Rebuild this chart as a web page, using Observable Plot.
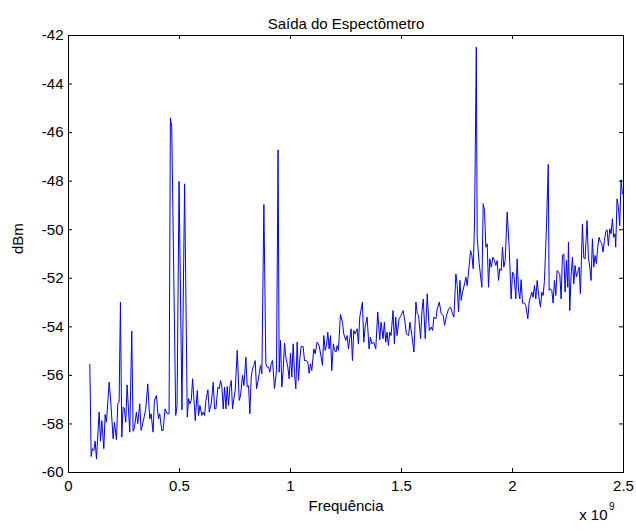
<!DOCTYPE html>
<html>
<head>
<meta charset="utf-8">
<script src="https://cdn.jsdelivr.net/npm/d3@7"></script>
<script src="https://cdn.jsdelivr.net/npm/@observablehq/plot@0.6"></script>
<style>
  html, body { margin: 0; padding: 0; background: #fff; }
  #chart svg { display: block; }
</style>
</head>
<body>
<div id="chart"></div>
<script>
// Frequency in units of 10^9 Hz
const freq = [
0.096,0.102,0.108,0.114,0.120,0.126,0.138,0.144,0.150,0.159,0.165,0.171,0.183,0.189,0.201,0.207,0.216,0.222,0.228,0.234,
0.240,0.246,0.252,0.258,0.264,0.276,0.285,0.291,0.297,0.306,0.312,0.321,0.327,0.339,0.348,0.357,0.366,0.372,0.381,0.387,
0.396,0.405,0.411,0.420,0.426,0.435,0.444,0.453,0.459,0.465,0.483,0.489,0.498,0.511,0.523,0.535,0.541,0.547,0.553,0.559,
0.565,0.571,0.580,0.586,0.592,0.601,0.607,0.613,0.619,0.628,0.634,0.643,0.652,0.658,0.664,0.673,0.679,0.685,
0.691,0.697,0.703,0.709,0.715,0.721,0.727,0.733,0.739,0.745,0.751,0.760,0.769,0.775,0.784,0.790,0.799,0.805,0.811,0.817,
0.823,0.829,0.835,0.841,0.847,0.853,0.859,0.865,0.871,0.880,0.889,0.895,0.901,0.907,0.913,0.919,0.928,0.937,0.944,0.949,
0.955,0.961,0.967,0.973,0.979,0.988,0.994,1.000,1.006,1.012,1.018,1.024,1.030,1.036,1.042,1.048,1.057,1.063,1.072,1.078,
1.084,1.090,1.096,1.105,1.111,1.120,1.129,1.138,1.144,1.150,1.156,1.162,1.168,1.174,1.180,1.186,1.193,1.199,1.205,1.210,
1.216,1.225,1.234,1.240,1.249,1.255,1.261,1.267,1.273,1.279,1.285,1.291,1.300,1.306,1.312,
1.324,1.330,1.336,1.345,1.354,1.360,1.366,1.375,1.384,1.393,1.402,1.408,1.417,1.423,1.429,1.435,1.441,1.447,1.453,1.462,
1.468,1.474,1.480,1.489,1.498,1.507,1.516,1.522,1.532,1.538,1.547,1.556,1.565,1.571,1.577,1.586,1.592,1.598,1.607,1.616,
1.625,1.634,1.640,1.646,1.655,1.661,1.670,1.679,1.688,1.694,1.703,1.712,1.721,1.730,1.736,1.745,1.751,1.757,1.763,1.769,
1.775,1.784,1.790,1.796,1.805,1.811,1.817,1.823,1.829,1.837,1.841,1.850,1.862,1.868,1.874,1.880,1.886,1.892,1.898,
1.904,1.912,1.919,1.925,1.931,1.937,1.943,1.949,1.955,1.961,1.967,1.976,1.985,1.994,2.000,2.006,2.015,2.021,2.027,2.033,
2.039,2.045,2.054,2.060,2.069,2.075,2.081,2.087,2.093,2.099,2.105,2.111,2.120,2.126,2.132,2.138,2.144,2.153,2.161,2.165,
2.171,2.177,2.183,2.189,2.195,2.201,2.207,2.213,2.219,2.225,2.231,2.237,2.243,2.249,2.252,2.258,2.264,2.270,2.276,2.282,
2.288,2.294,2.300,2.306,2.315,2.321,2.327,2.336,2.342,2.348,2.354,2.360,2.366,2.372,2.378,2.384,2.390,2.396,2.402,2.408,
2.414,2.420,2.426,2.432,2.438,2.444,2.450,2.456,2.462,2.465,2.471,2.477,2.483,2.489,2.495
];
// Power in dBm
const dbm = [
-55.55,-59.34,-59.02,-59.09,-58.71,-59.44,-57.51,-58.71,-57.86,-59.02,-57.61,-57.93,-56.28,-56.90,-58.61,-57.93,-58.65,-57.17,-57.10,-52.98,
-58.54,-57.31,-57.38,-57.93,-56.39,-58.34,-54.18,-58.30,-58.16,-57.51,-57.99,-57.17,-58.27,-57.79,-57.38,-56.35,-57.79,-57.58,-58.34,-57.03,
-56.83,-57.79,-57.58,-58.27,-58.27,-57.38,-57.58,-57.58,-45.39,-45.78,-57.65,-57.24,-48.01,-57.42,-48.11,-57.72,-56.96,-57.17,-57.03,-56.14,
-56.96,-57.86,-56.62,-57.65,-57.24,-57.65,-57.51,-57.65,-57.03,-56.59,-57.51,-57.17,-56.28,-57.38,-57.38,-56.49,-56.55,-56.21,
-56.48,-57.38,-56.48,-57.38,-56.46,-57.24,-56.48,-56.21,-57.38,-56.96,-56.62,-54.97,-57.03,-56.83,-56.00,-56.42,-55.25,-56.48,-56.42,-57.58,
-56.07,-55.73,-55.59,-55.39,-56.55,-56.28,-55.93,-55.59,-55.93,-48.96,-55.52,-55.66,-55.66,-55.87,-55.52,-55.39,-56.55,-55.80,-46.71,-55.87,
-54.56,-56.48,-55.80,-54.67,-55.25,-55.66,-56.14,-55.08,-56.07,-54.70,-55.93,-56.55,-54.63,-56.21,-55.32,-54.81,-54.81,-55.39,-55.39,-55.45,
-55.91,-55.52,-55.80,-54.91,-55.11,-54.63,-54.77,-55.25,-55.59,-54.36,-54.97,-54.77,-54.22,-54.91,-54.36,-55.80,-54.70,-54.97,-55.04,-54.77,
-54.97,-53.49,-53.81,-54.29,-54.56,-54.36,-54.91,-54.49,-54.08,-55.39,-54.15,-54.29,-54.08,-54.70,-53.60,
-52.98,-54.63,-54.01,-53.60,-54.91,-54.42,-54.70,-54.63,-54.91,-53.39,-54.53,-53.81,-54.49,-53.81,-54.63,-54.22,-54.77,-54.22,-54.36,-53.33,
-54.70,-53.60,-54.36,-53.67,-53.53,-53.33,-53.81,-54.29,-54.36,-53.81,-54.36,-55.04,-52.98,-53.46,-53.53,-54.49,-53.39,-52.85,-54.49,-52.64,
-54.15,-54.01,-54.15,-53.60,-53.67,-53.26,-52.98,-53.46,-53.53,-53.94,-53.53,-53.26,-53.19,-53.46,-53.60,-51.82,-52.30,-53.39,-52.09,-52.91,
-52.57,-52.23,-51.95,-52.30,-51.47,-50.86,-51.06,-51.61,-49.76,-42.48,-50.31,-51.40,-52.37,-48.93,-49.21,-50.72,-50.58,-52.37,-51.20,
-51.54,-51.13,-51.27,-51.47,-51.27,-52.09,-51.61,-51.68,-50.72,-51.54,-51.27,-49.28,-50.72,-52.85,-51.75,-51.82,-52.85,-51.20,-52.50,-52.85,
-52.06,-53.02,-53.02,-53.12,-53.67,-52.98,-52.78,-52.57,-52.78,-52.30,-52.85,-52.09,-52.85,-53.19,-52.57,-52.71,-52.09,-49.89,-47.31,-52.50,
-52.43,-52.50,-53.02,-52.09,-52.71,-51.68,-51.75,-51.84,-52.85,-51.06,-50.99,-52.57,-51.27,-52.37,-50.51,-53.33,-51.88,-51.13,-52.23,-51.47,
-51.95,-51.75,-51.54,-52.64,-49.76,-51.16,-51.20,-49.62,-51.13,-51.54,-52.09,-50.37,-51.54,-51.06,-51.40,-50.72,-50.31,-50.51,-50.55,-50.92,
-50.44,-50.10,-50.00,-50.66,-49.96,-50.17,-49.55,-50.31,-50.17,-50.72,-48.73,-49.07,-49.83,-47.94,-48.52
];
const xTicks = [0, 0.5, 1, 1.5, 2, 2.5];
const yTicks = [-60, -58, -56, -54, -52, -50, -48, -46, -44, -42];
const title = "Saída do Espectômetro";
const xLabel = "Frequência";
const yLabel = "dBm";

const data = freq.map((f, i) => ({f, v: dbm[i]}));
const font = "'Liberation Sans', Arial, sans-serif";
const fs = 15;

const chart = Plot.plot({
  width: 636,
  height: 531,
  marginLeft: 68,
  marginRight: 13,
  marginTop: 35,
  marginBottom: 59,
  style: {fontFamily: font, fontSize: fs + "px", color: "#000", background: "#fff"},
  x: {domain: [0, 2.5], ticks: xTicks, label: null},
  y: {domain: [-60, -42], ticks: yTicks, label: null},
  marks: [
    Plot.line(data, {x: "f", y: "v", stroke: "#0000ff", strokeWidth: 1}),
    Plot.frame({stroke: "#000", strokeWidth: 1}),
    // inward ticks (MATLAB style) on all four sides
    Plot.tickX(xTicks, {x: d => d, insetTop: 433, stroke: "#000"}),
    Plot.tickX(xTicks, {x: d => d, insetBottom: 433, stroke: "#000"}),
    Plot.tickY(yTicks, {y: d => d, insetRight: 551, stroke: "#000"}),
    Plot.tickY(yTicks, {y: d => d, insetLeft: 551, stroke: "#000"}),
    Plot.axisX(xTicks, {tickSize: 0, tickPadding: 8, tickFormat: d => String(d), fontSize: fs, label: null}),
    Plot.axisY(yTicks, {tickSize: 0, tickPadding: 5, tickFormat: d => String(d), fontSize: fs, label: null}),
    Plot.text([title], {frameAnchor: "top", dy: -17, fontSize: fs, text: d => d}),
    Plot.text([xLabel], {frameAnchor: "bottom", dy: 38, fontSize: fs, text: d => d}),
    Plot.text([yLabel], {frameAnchor: "left", dx: -50, rotate: -90, fontSize: fs, text: d => d}),
    Plot.text(["x 10"], {frameAnchor: "bottom-right", dx: -16, dy: 47, fontSize: fs, textAnchor: "end", text: d => d}),
    Plot.text(["9"], {frameAnchor: "bottom-right", dx: -9, dy: 37, fontSize: 10, textAnchor: "end", text: d => d})
  ]
});
document.getElementById("chart").append(chart);
</script>
</body>
</html>
